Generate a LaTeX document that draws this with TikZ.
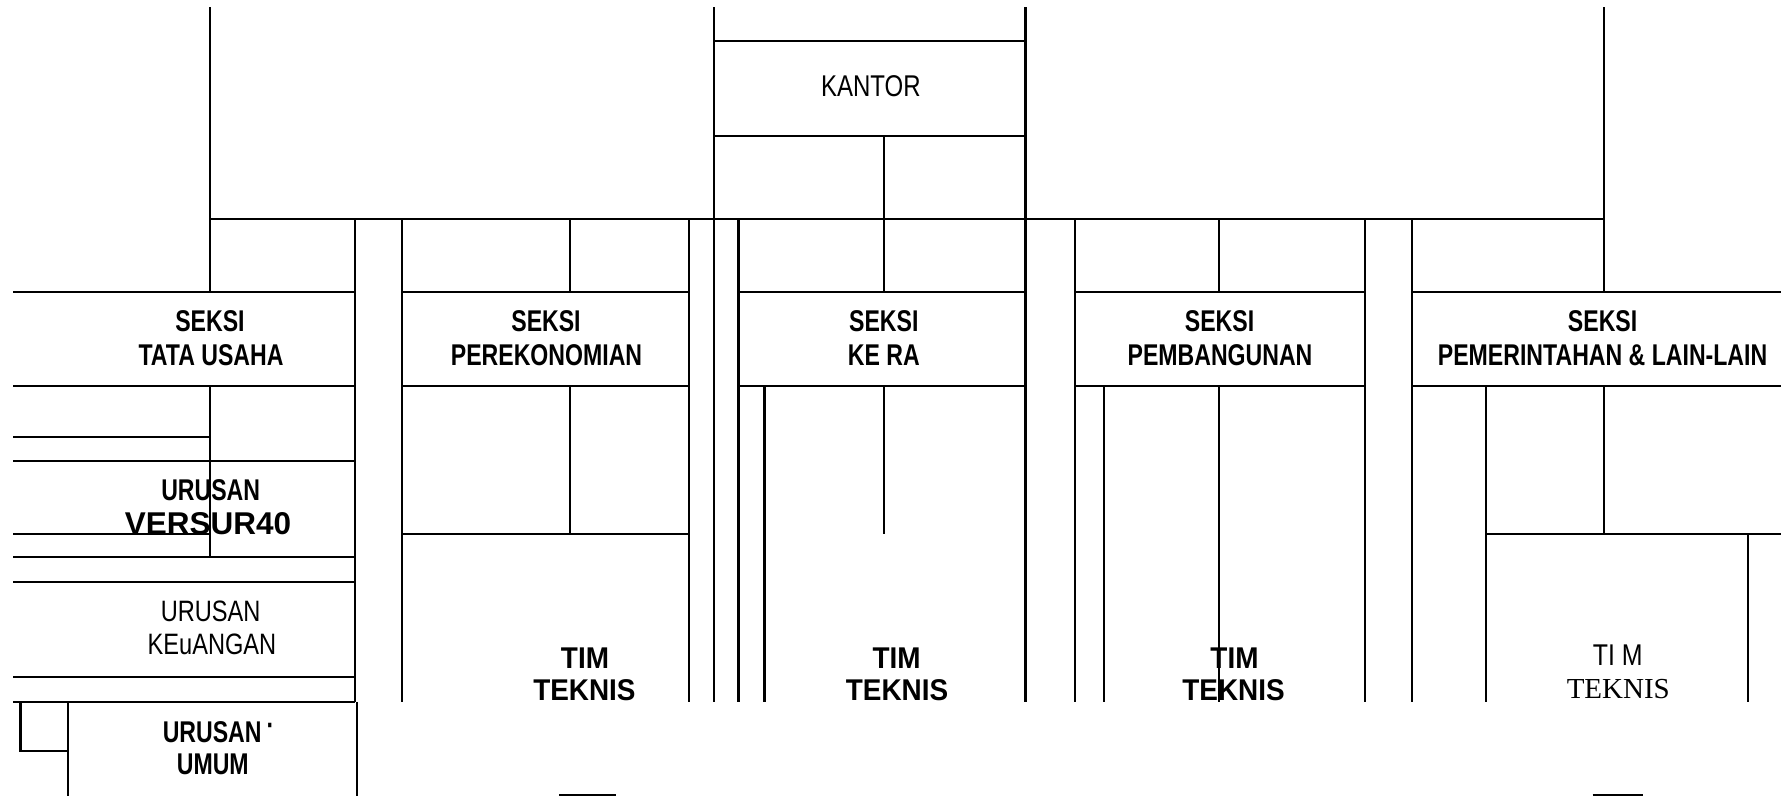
\documentclass[tikz,border=0pt]{standalone}
\usepackage{fontspec}
\setmainfont{Liberation Sans}
\newfontfamily\nbold[FakeStretch=0.77]{Liberation Sans}
\newfontfamily\nreg[FakeStretch=0.80]{Liberation Sans}
\newfontfamily\nregb[FakeStretch=0.83]{Liberation Sans}
\newfontfamily\tbold[FakeStretch=0.93]{Liberation Sans}
\newfontfamily\wserif{Liberation Serif}
\tikzset{
  seksi/.style={font=\nbold\bfseries\fontsize{30}{34}\selectfont, anchor=base, inner sep=0pt},
  plain/.style={font=\nreg\fontsize{30}{34}\selectfont, anchor=base, inner sep=0pt},
  plainb/.style={font=\nregb\fontsize{30}{34}\selectfont, anchor=base, inner sep=0pt},
  plainc/.style={font=\nreg\fontsize{29.5}{34}\selectfont, anchor=base, inner sep=0pt},
  timb/.style={font=\tbold\bfseries\fontsize{30}{34}\selectfont, anchor=base, inner sep=0pt},
  wide/.style={font=\bfseries\fontsize{31.5}{34}\selectfont, anchor=base, inner sep=0pt},
  serif/.style={font=\wserif\fontsize{29}{34}\selectfont, anchor=base, inner sep=0pt},
  ln/.style={line width=2.2pt, black}
}
\begin{document}
\begin{tikzpicture}[x=1pt,y=-1pt]
\useasboundingbox (0,0) rectangle (1781,796);
\fill[white] (0,0) rectangle (1781,796);
% ---------- top structure
\draw[ln] (209.7,7.3) -- (209.7,291.7);
\draw[ln] (713.6,7.3) -- (713.6,702.3);
\draw[ln] (1025.5,7.3) -- (1025.5,702.3);
\draw[ln] (1603.9,7.3) -- (1603.9,291.7);
\draw[ln] (713.6,40.7) -- (1025.5,40.7);
\draw[ln] (713.6,136) -- (1025.5,136);
\draw[ln] (884.3,136) -- (884.3,291.7);
\draw[ln] (209.7,219.3) -- (1603.9,219.3);
\draw[ln] (570.2,219.3) -- (570.2,291.7);
\draw[ln] (1219.3,219.3) -- (1219.3,291.7);
\foreach \xx in {354.7,401.8,689.2,738.5,1075.3,1364.9,1411.9}
  \draw[ln] (\xx,219.3) -- (\xx,702.3);
% ---------- section boxes (top and bottom edges)
\foreach \a/\b in {13.4/354.7, 401.8/689.2, 738.5/1025.5, 1075.3/1364.9, 1411.9/1781}{
  \draw[ln] (\a,291.7) -- (\b,291.7);
  \draw[ln] (\a,386) -- (\b,386);
}
% ---------- TATA USAHA column
\draw[ln] (209.7,386) -- (209.7,556.7);
\draw[ln] (13.4,436.7) -- (209.7,436.7);
\draw[ln] (13.4,460.7) -- (354.7,460.7);
\draw[ln] (13.4,534) -- (209.7,534);
\draw[ln] (13.4,556.7) -- (354.7,556.7);
\draw[ln] (13.4,582) -- (354.7,582);
\draw[ln] (13.4,676.7) -- (354.7,676.7);
\draw[ln] (13.4,702.3) -- (354.7,702.3);
\draw[ln] (20.5,702.3) -- (20.5,750.8) -- (68.2,750.8);
\draw[ln] (68.2,702.3) -- (68.2,796);
\draw[ln] (357,702.3) -- (357,796);
% ---------- PEREKONOMIAN column
\draw[ln] (570.2,386) -- (570.2,534);
\draw[ln] (401.8,534) -- (689.2,534);
\draw[ln] (559.3,795) -- (616,795);
% ---------- KE RA column
\draw[ln] (764.5,386) -- (764.5,702.3);
\draw[ln] (884.3,386) -- (884.3,534);
% ---------- PEMBANGUNAN column
\draw[ln] (1103.6,386) -- (1103.6,702.3);
\draw[ln] (1219.3,386) -- (1219.3,702.3);
% ---------- PEMERINTAHAN column
\draw[ln] (1486,386) -- (1486,702.3);
\draw[ln] (1603.9,386) -- (1603.9,534);
\draw[ln] (1486,534) -- (1781,534);
\draw[ln] (1748.3,534) -- (1748.3,702.3);
\draw[ln] (1592.7,795) -- (1642.7,795);
% ---------- texts
\node[plain] (kantor) at (870.9,96.7) {KANTOR};
\node[seksi] (tu1) at (210,331.7) {SEKSI};
\node[seksi] (tu2) at (211,365.7) {TATA USAHA};
\node[seksi] (pk1) at (546,331.7) {SEKSI};
\node[seksi] (pk2) at (546.5,365.7) {PEREKONOMIAN};
\node[seksi] (kr1) at (883.8,331.7) {SEKSI};
\node[seksi] (kr2) at (883.8,365.7) {KE RA};
\node[seksi] (pb1) at (1219.5,331.7) {SEKSI};
\node[seksi] (pb2) at (1220,365.7) {PEMBANGUNAN};
\node[seksi] (pm1) at (1602.6,331.7) {SEKSI};
\node[seksi] (pm2) at (1602.6,365.7) {PEMERINTAHAN \& LAIN-LAIN};
\node[seksi] (uv1) at (210.7,500) {URUSAN};
\node[wide] (uv2) at (208,534) {VERSUR40};
\node[plainc] (uk1) at (210.7,621.7) {URUSAN};
\node[plainc] (uk2) at (212,654) {KEuANGAN};
\node[seksi,anchor=base west] (uu1) at (162.6,742.3) {URUSAN\,\raisebox{6.5pt}{·}};
\node[seksi] (uu2) at (212.8,774.3) {UMUM};
\node[timb] (tp1) at (585,668.3) {TIM};
\node[timb] (tp2) at (584.4,700.7) {TEKNIS};
\node[timb] (tk1) at (896.6,668.3) {TIM};
\node[timb] (tk2) at (897,700.7) {TEKNIS};
\node[timb] (tb1) at (1234.5,668.3) {TIM};
\node[timb] (tb2) at (1233.5,700.7) {TEKNIS};
\node[plainb] (tm1) at (1617.7,665) {TI M};
\node[serif] (tm2) at (1618.3,698.3) {TEKNIS};
\end{tikzpicture}
\end{document}
